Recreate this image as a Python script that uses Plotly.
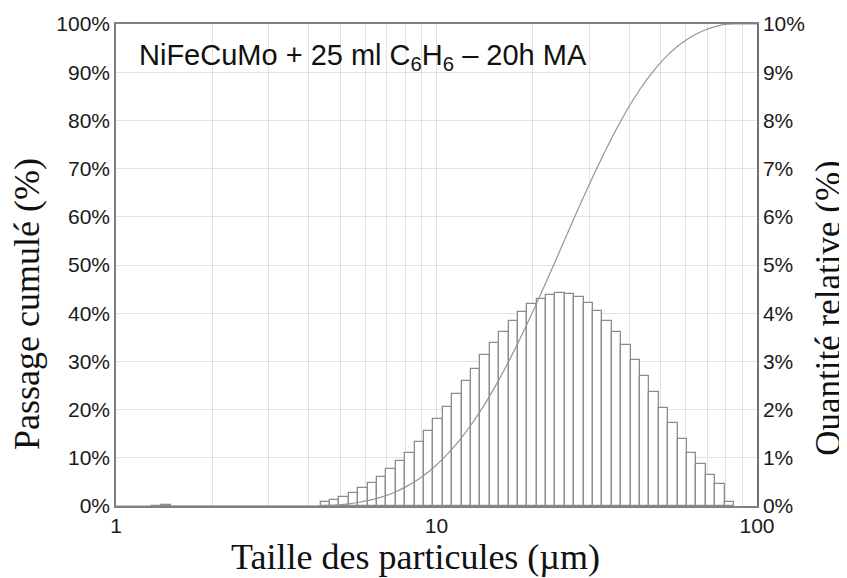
import numpy as np
import plotly.graph_objects as go

# Particle size class boundaries (µm) of the distribution bars
edges = [4.352, 4.656, 4.981, 5.329, 5.701, 6.099, 6.524, 6.980, 7.467, 7.988,
         8.546, 9.142, 9.780, 10.463, 11.193, 11.974, 12.810, 13.704, 14.661, 15.684,
         16.779, 17.950, 19.203, 20.543, 21.977, 23.511, 25.152, 26.908, 28.786, 30.795,
         32.944, 35.244, 37.704, 40.336, 43.151, 46.163, 49.385, 52.832, 56.520, 60.465,
         64.685, 69.200, 74.030, 79.197, 84.725]

# Relative quantity per class (%)
q = [0.08, 0.12, 0.19, 0.28, 0.37, 0.48, 0.61, 0.76, 0.93, 1.11,
     1.33, 1.55, 1.80, 2.05, 2.32, 2.59, 2.85, 3.13, 3.38, 3.62,
     3.84, 4.02, 4.19, 4.29, 4.38, 4.41, 4.40, 4.33, 4.21, 4.05,
     3.84, 3.60, 3.33, 3.03, 2.70, 2.37, 2.04, 1.72, 1.40, 1.11,
     0.87, 0.64, 0.45, 0.09]

# tiny fraction around 1.4 µm
fine_edges = [1.29, 1.38, 1.48]
fine_q = [0.01, 0.015]

# Cumulative passing curve (%)
cum_size = [1.0, 1.29, 1.48, 4.352,
            4.656, 4.981, 5.329, 5.701, 6.099, 6.524, 6.980, 7.467, 7.988, 8.546,
            9.142, 9.780, 10.463, 11.193, 11.974, 12.810, 13.704, 14.661, 15.684, 16.779,
            17.950, 19.203, 20.543, 21.977, 23.511, 25.152, 26.908, 28.786, 30.795, 32.944,
            35.244, 37.704, 40.336, 43.151, 46.163, 49.385, 52.832, 56.520, 60.465, 64.685,
            69.200, 74.030, 79.197, 84.725, 100.0]
cum_pass = [0.0, 0.0, 0.05, 0.05,
            0.13, 0.25, 0.44, 0.73, 1.10, 1.59, 2.20, 2.97, 3.91, 5.03,
            6.38, 7.95, 9.77, 11.84, 14.18, 16.80, 19.68, 22.85, 26.27, 29.93,
            33.81, 37.87, 42.11, 46.45, 50.87, 55.33, 59.78, 64.16, 68.41, 72.51,
            76.39, 80.03, 83.40, 86.46, 89.19, 91.59, 93.65, 95.39, 96.80, 97.93,
            98.81, 99.45, 99.91, 100.0, 100.0]

left_ticks = [0, 10, 20, 30, 40, 50, 60, 70, 80, 90, 100]
right_ticks = [0, 1, 2, 3, 4, 5, 6, 7, 8, 9, 10]

SANS = 'Arial, Liberation Sans, sans-serif'
SERIF = 'Times New Roman, Liberation Serif, serif'
GRID = '#e2e2e2'
EDGE = '#8c8c8c'

fig = go.Figure()

# bars on the base (right) axis so the cumulative curve on the overlay sits on top
for e, v in [(edges, q), (fine_edges, fine_q)]:
    fig.add_trace(go.Bar(
        x=e[:-1],
        y=v,
        width=np.diff(e),
        offset=0,
        marker=dict(color='white', line=dict(color=EDGE, width=1.3)),
        yaxis='y',
        showlegend=False,
    ))

fig.add_trace(go.Scatter(
    x=cum_size,
    y=cum_pass,
    mode='lines',
    line=dict(color='#959595', width=1.2, shape='spline', smoothing=0.6),
    yaxis='y2',
    showlegend=False,
))

fig.update_layout(
    width=847,
    height=578,
    margin=dict(l=108, r=98, t=16, b=80),
    plot_bgcolor='white',
    paper_bgcolor='white',
    bargap=0,
    font=dict(family=SANS, size=21, color='#1a1a1a'),
    xaxis=dict(
        type='log',
        range=[0, 2],
        tickvals=[1, 10, 100],
        ticktext=['1', '10', '100'],
        showgrid=True,
        gridcolor=GRID,
        gridwidth=1,
        minor=dict(dtick='D1', showgrid=True, gridcolor=GRID, gridwidth=1, ticks=''),
        showline=True,
        linecolor='#808080',
        linewidth=1.5,
        mirror=True,
        ticks='',
        zeroline=False,
        automargin=False,
    ),
    yaxis=dict(
        range=[0, 10],
        tickvals=right_ticks,
        ticktext=[f'{t}%' for t in right_ticks],
        side='right',
        showgrid=True,
        gridcolor=GRID,
        gridwidth=1,
        showline=True,
        linecolor='#707070',
        linewidth=1.5,
        ticks='',
        zeroline=False,
        automargin=False,
    ),
    yaxis2=dict(
        range=[0, 100],
        tickvals=left_ticks,
        ticktext=[f'{t}%' for t in left_ticks],
        overlaying='y',
        side='left',
        showgrid=False,
        showline=True,
        linecolor='#808080',
        linewidth=1.5,
        ticks='',
        zeroline=False,
        automargin=False,
    ),
    annotations=[
        dict(text='NiFeCuMo + 25 ml C<sub>6</sub>H<sub>6</sub> – 20h MA',
             xref='paper', yref='paper', x=0.033, y=0.931,
             xanchor='left', yanchor='middle', showarrow=False,
             font=dict(family=SANS, size=29, color='#111')),
        dict(text='Taille des particules (µm)',
             xref='paper', yref='paper', x=0.468, y=-0.106,
             xanchor='center', yanchor='middle', showarrow=False,
             font=dict(family=SERIF, size=36, color='#111')),
        dict(text='Passage cumulé (%)',
             xref='paper', yref='paper', x=-0.139, y=0.419, textangle=-90,
             xanchor='center', yanchor='middle', showarrow=False,
             font=dict(family=SERIF, size=36, color='#111')),
        dict(text='Quantité relative (%)',
             xref='paper', yref='paper', x=1.112, y=0.411, textangle=-90,
             xanchor='center', yanchor='middle', showarrow=False,
             font=dict(family=SERIF, size=35, color='#111')),
    ],
)

fig.write_html('out.html')
